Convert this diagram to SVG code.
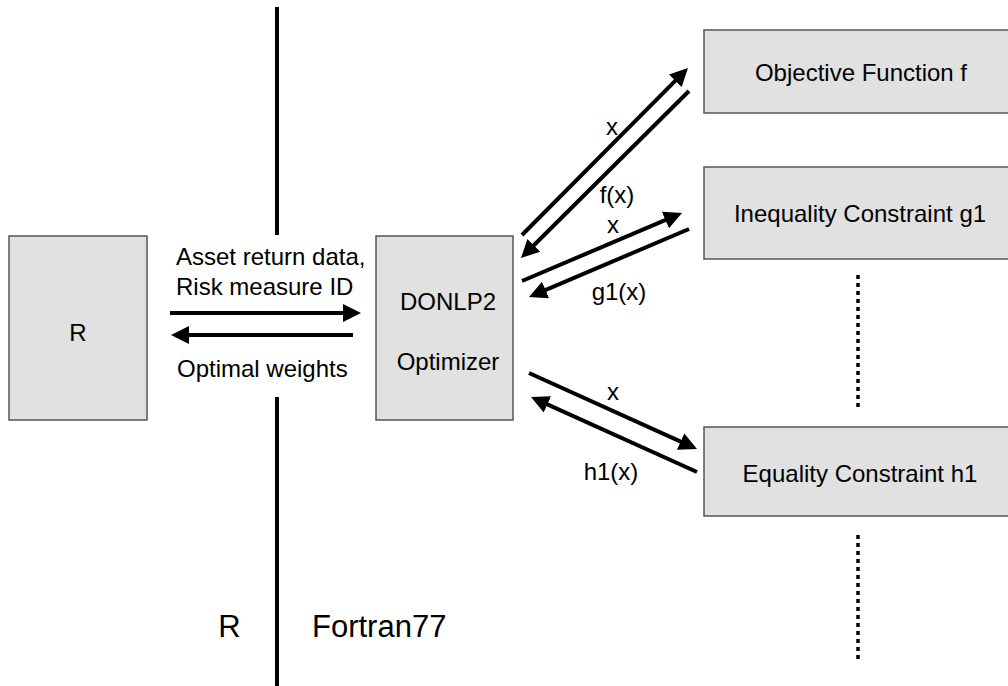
<svg xmlns="http://www.w3.org/2000/svg" width="1008" height="686" viewBox="0 0 1008 686">
  <defs>
    <style>
      .box { fill: #e1e1e1; stroke: #555555; stroke-width: 1.5; }
      .lbl { font-family: "Liberation Sans", Arial, sans-serif; font-size: 24px; fill: #000; }
      .mid { text-anchor: middle; }
      .big { font-size: 31px; }
      .arrow { stroke: #000; stroke-width: 4; fill: none; marker-end: url(#head); }
      .dots { stroke: #000; stroke-width: 3.5; stroke-dasharray: 4 4; fill: none; }
    </style>
    <marker id="head" markerUnits="userSpaceOnUse" markerWidth="18" markerHeight="18" refX="8" refY="9" orient="auto">
      <path d="M0,0 L18,9 L0,18 z" fill="#000"/>
    </marker>
  </defs>

  <rect width="1008" height="686" fill="#ffffff"/>

  <!-- language boundary -->
  <g id="divider">
    <line x1="277" y1="7" x2="277" y2="235" stroke="#000" stroke-width="4"/>
    <line x1="277" y1="397" x2="277" y2="686" stroke="#000" stroke-width="4"/>
    <text class="lbl big" x="229.5" y="637" text-anchor="middle">R</text>
    <text class="lbl big" x="312" y="637">Fortran77</text>
  </g>

  <g id="node-r">
    <rect class="box" x="9" y="236" width="138" height="184"/>
    <text class="lbl mid" x="78" y="341">R</text>
  </g>

  <g id="node-donlp2">
    <rect class="box" x="376" y="236" width="137" height="184"/>
    <text class="lbl mid" x="448" y="310">DONLP2</text>
    <text class="lbl mid" x="448" y="370">Optimizer</text>
  </g>

  <g id="node-objective">
    <rect class="box" x="704" y="30" width="320" height="83"/>
    <text class="lbl mid" x="861" y="81">Objective Function f</text>
  </g>

  <g id="node-inequality">
    <rect class="box" x="704" y="167" width="320" height="92"/>
    <text class="lbl mid" x="860" y="222">Inequality Constraint g1</text>
  </g>

  <g id="node-equality">
    <rect class="box" x="704" y="427" width="320" height="89"/>
    <text class="lbl mid" x="860" y="482">Equality Constraint h1</text>
  </g>

  <!-- more constraints continue below -->
  <g id="ellipsis">
    <line class="dots" x1="858" y1="275" x2="858" y2="409"/>
    <line class="dots" x1="858" y1="535" x2="858" y2="661"/>
  </g>

  <g id="connectors">
    <line class="arrow" x1="170" y1="313" x2="351" y2="313"/>
    <line class="arrow" x1="353" y1="335" x2="181" y2="335"/>
    <text class="lbl" x="176" y="265">Asset return data,</text>
    <text class="lbl" x="176" y="295">Risk measure ID</text>
    <text class="lbl" x="177" y="377">Optimal weights</text>

    <line class="arrow" x1="522" y1="235" x2="680.9" y2="75.1"/>
    <line class="arrow" x1="689" y1="91" x2="528.1" y2="251"/>
    <text class="lbl mid" x="612" y="135">x</text>
    <text class="lbl mid" x="617" y="203">f(x)</text>

    <line class="arrow" x1="522" y1="281" x2="672.8" y2="216.9"/>
    <line class="arrow" x1="689" y1="229" x2="538.2" y2="293.1"/>
    <text class="lbl mid" x="613" y="233">x</text>
    <text class="lbl mid" x="619" y="300">g1(x)</text>

    <line class="arrow" x1="529" y1="373" x2="687.9" y2="444.9"/>
    <line class="arrow" x1="697" y1="472" x2="540.1" y2="401.1"/>
    <text class="lbl mid" x="613" y="400">x</text>
    <text class="lbl mid" x="611" y="480">h1(x)</text>
  </g>
</svg>
